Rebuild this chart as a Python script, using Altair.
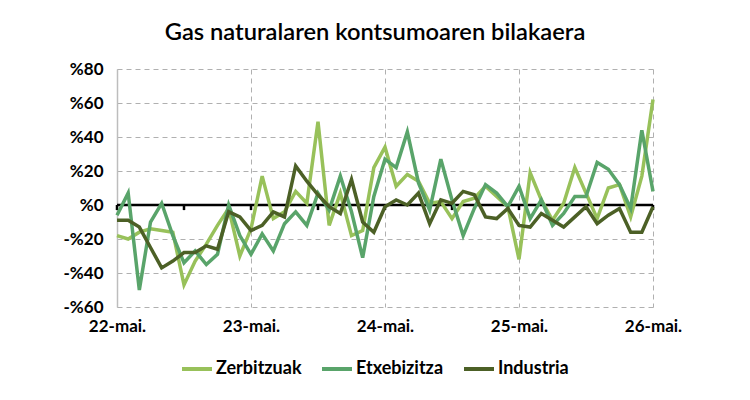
import altair as alt
import pandas as pd

# month index 0 = May 2022 ... 48 = May 2026
zerbitzuak = [-18, -20, -16, -14, -15, -16, -47, -33, -23, -12, -2, -30, -14, 17, -8, -4, 8, 1,
              49, -12, 7, -18, -15, 22, 34, 11, 18, 14, 1, 2, -8, 2, 4, 11, 5, -1, -32, 19, 3,
              -9, 1, 22, 7, -8, 10, 12, -7, 17, 62]
etxebizitza = [-6, 7, -50, -10, 1, -18, -34, -27, -35, -29, 0, -18, -29, -17, -27, -11, -4, -12,
               7, -3, 17, -4, -31, 5, 27, 22, 43, 13, -3, 27, 3, -18, -2, 12, 7, -1, 11, -8, 3,
               -12, -5, 5, 5, 25, 21, 12, -2, 44, 8]
industria = [-9, -9, -13, -25, -37, -33, -28, -28, -24, -26, -4, -7, -15, -12, -4, -7, 23, 14,
             6, -1, -5, 15, -10, -16, -1, 3, 0, 7, -11, 3, 1, 8, 6, -7, -8, -2, -12, -13, -5,
             -9, -13, -7, -1, -11, -6, -2, -16, -16, -1]

series_names = ["Zerbitzuak", "Etxebizitza", "Industria"]
series_colors = ["#98C15A", "#59A46A", "#4C6026"]
year_labels = ["22-mai.", "23-mai.", "24-mai.", "25-mai.", "26-mai."]
year_ticks = [0, 12, 24, 36, 48]
minor_ticks = [0, 6, 12, 18, 24, 30, 36, 42, 48]
y_ticks = [-60, -40, -20, 0, 20, 40, 60, 80]

rows = []
for name, vals in zip(series_names, [zerbitzuak, etxebizitza, industria]):
    for i, v in enumerate(vals):
        rows.append({"m": i, "serie": name, "v": v, "ord": series_names.index(name)})
df = pd.DataFrame(rows)

FONT = "Lato"
label_expr = "[" + ",".join(f"'{l}'" for l in year_labels) + "][round(datum.value/12)]"

xscale = alt.Scale(domain=[0, 48], nice=False, zero=False)
yscale = alt.Scale(domain=[-60, 80], nice=False)

xaxis = alt.Axis(values=year_ticks, labelExpr=label_expr, title=None, ticks=False,
                 domain=False, grid=True, gridDash=[5, 4], gridColor="#B0B0B0",
                 labelFont=FONT, labelFontSize=17, labelFontWeight="bold",
                 labelColor="#000000", labelPadding=11, labelFlush=False,
                 labelOverlap=False)
yaxis = alt.Axis(values=y_ticks,
                 labelExpr="datum.value < 0 ? '-%' + abs(datum.value) : '%' + datum.value",
                 title=None, ticks=False, domain=True, domainColor="#BDBDBD",
                 domainWidth=1.5, grid=True, gridDash=[5, 4], gridColor="#B0B0B0",
                 labelFont=FONT, labelFontSize=17, labelFontWeight="bold",
                 labelColor="#000000", labelPadding=14, labelOverlap=False)

lines = alt.Chart(df).mark_line(strokeWidth=3.5, strokeJoin="miter", clip=False).encode(
    x=alt.X("m:Q", scale=xscale, axis=xaxis),
    y=alt.Y("v:Q", scale=yscale, axis=yaxis),
    color=alt.Color("serie:N", scale=alt.Scale(domain=series_names, range=series_colors),
                    legend=alt.Legend(title=None, orient="none", direction="horizontal",
                                      legendX=63, legendY=283, symbolType="stroke",
                                      symbolSize=900, symbolStrokeWidth=4,
                                      labelFont=FONT, labelFontSize=18, labelFontWeight="bold",
                                      labelColor="#000000", columnPadding=12, labelOffset=2)),
    order=alt.Order("ord:Q"),
    detail="serie:N",
)

zero = alt.Chart(pd.DataFrame({"z": [0]})).mark_rule(color="#000000", strokeWidth=2.5).encode(
    y=alt.Y("z:Q", scale=yscale, axis=yaxis)
)

ticks_df = pd.DataFrame({"t": minor_ticks, "a": [0] * len(minor_ticks), "b": [-3] * len(minor_ticks)})
ticks = alt.Chart(ticks_df).mark_rule(color="#000000", strokeWidth=2.5).encode(
    x=alt.X("t:Q", scale=xscale, axis=xaxis),
    y=alt.Y("a:Q", scale=yscale, axis=yaxis),
    y2="b:Q",
)

chart = alt.layer(ticks, zero, lines).properties(
    width=536, height=238,
    padding={"left": 117, "top": 69, "right": 97, "bottom": 93},
    autosize=alt.AutoSizeParams(type="none"),
    title=alt.TitleParams("Gas naturalaren kontsumoaren bilakaera", font=FONT, fontSize=23.7,
                          fontWeight=600, color="#000000", anchor="middle", dx=-10, offset=15),
    background="#FFFFFF",
).configure_view(stroke=None)

chart.save("out.html", embed_options={"renderer": "svg", "actions": False})
